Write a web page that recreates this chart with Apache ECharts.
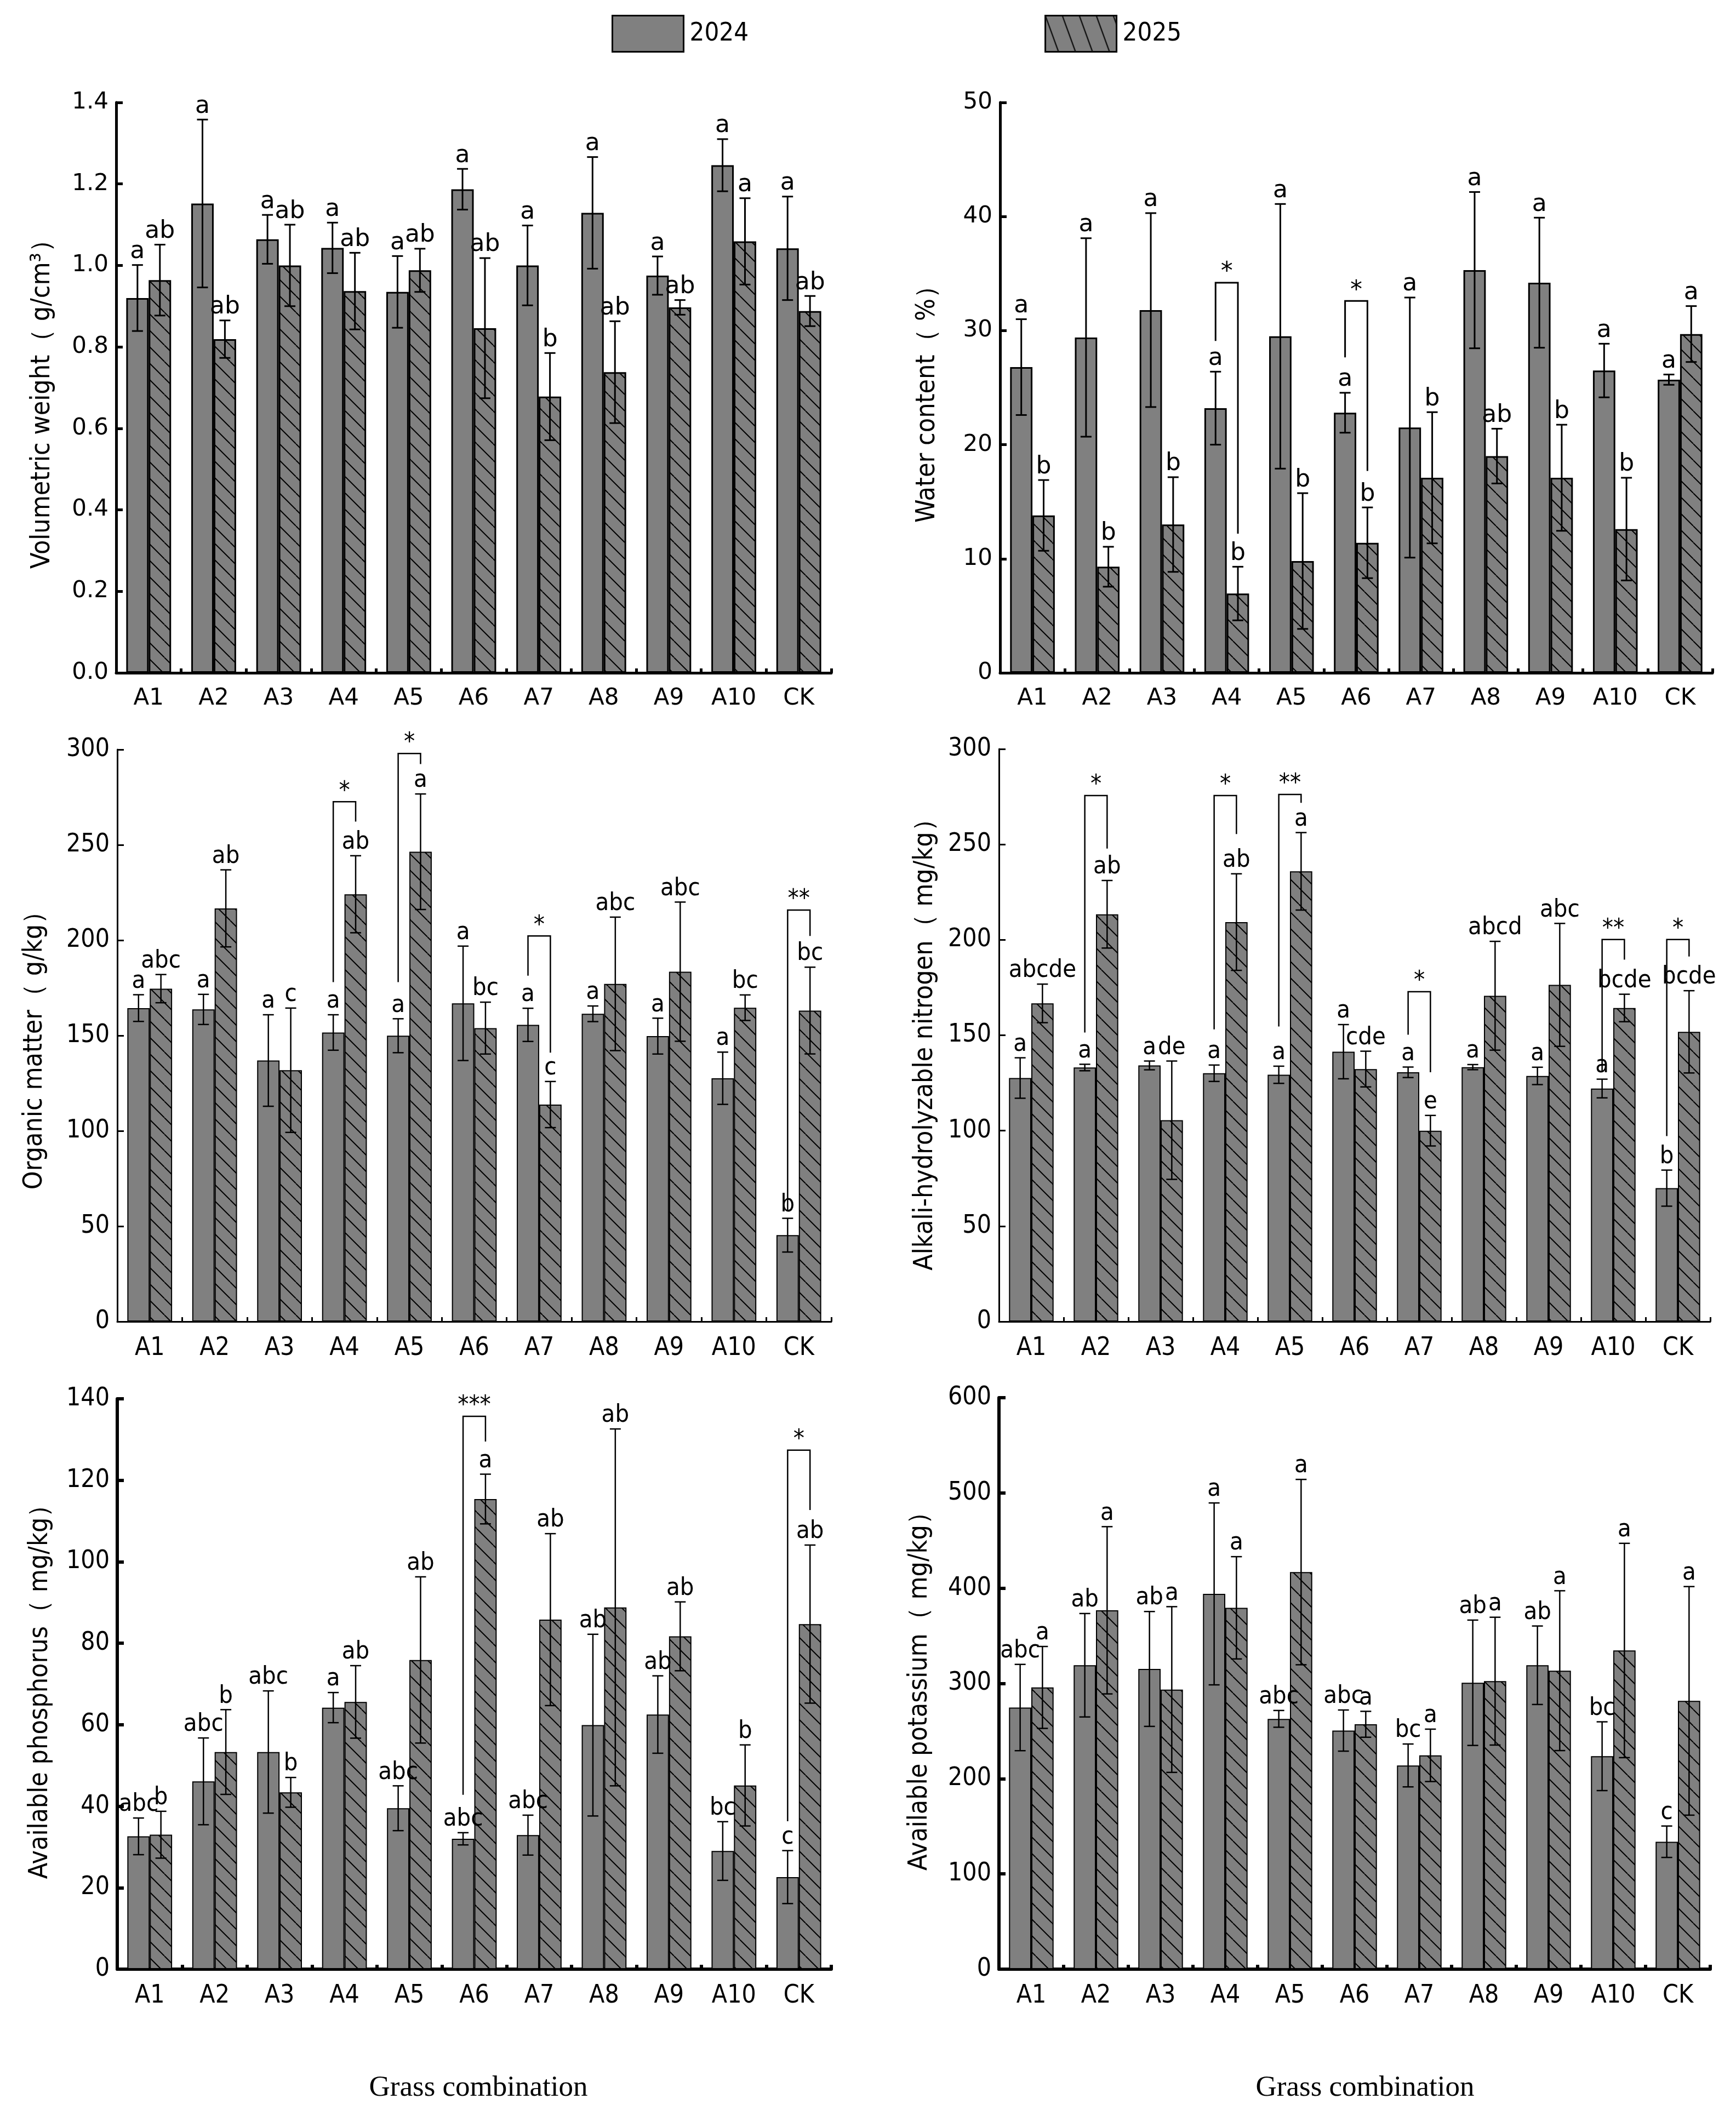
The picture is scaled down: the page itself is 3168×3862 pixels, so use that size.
<!DOCTYPE html>
<html>
<head>
<meta charset="utf-8">
<script src="https://cdn.jsdelivr.net/npm/echarts@6.0.0/dist/echarts.min.js"></script>
<style>
  html, body { margin: 0; padding: 0; background: #fff; }
  #main { width: 3168px; height: 3862px; }
</style>
</head>
<body>
<div id="main"></div>
<script>
var categories = ['A1', 'A2', 'A3', 'A4', 'A5', 'A6', 'A7', 'A8', 'A9', 'A10', 'CK'];

// volumetric weight
var vw2024 = [0.92, 1.152, 1.064, 1.043, 0.935, 1.187, 1.0, 1.129, 0.975, 1.246, 1.042];
var vw2024Err = [0.081, 0.206, 0.06, 0.062, 0.088, 0.05, 0.098, 0.137, 0.047, 0.064, 0.127];
var vw2025 = [0.964, 0.819, 1.0, 0.937, 0.988, 0.846, 0.678, 0.738, 0.897, 1.059, 0.888];
var vw2025Err = [0.087, 0.046, 0.1, 0.094, 0.053, 0.172, 0.107, 0.125, 0.018, 0.106, 0.037];
var vw2024Sig = ['a', 'a', 'a', 'a', 'a', 'a', 'a', 'a', 'a', 'a', 'a'];
var vw2025Sig = ['ab', 'ab', 'ab', 'ab', 'ab', 'ab', 'b', 'ab', 'ab', 'a', 'ab'];
var vwBrackets = [];
var vwStars = [];

// water content
var wc2024 = [26.8, 29.4, 31.8, 23.2, 29.5, 22.8, 21.5, 35.3, 34.2, 26.5, 25.7];
var wc2024Err = [4.2, 8.7, 8.5, 3.2, 11.6, 1.75, 11.4, 6.85, 5.7, 2.35, 0.45];
var wc2025 = [13.8, 9.3, 13.0, 6.95, 9.8, 11.4, 17.1, 19.0, 17.1, 12.6, 29.7];
var wc2025Err = [3.1, 1.75, 4.15, 2.35, 5.95, 3.1, 5.75, 2.4, 4.65, 4.5, 2.45];
var wc2024Sig = ['a', 'a', 'a', 'a', 'a', 'a', 'a', 'a', 'a', 'a', 'a'];
var wc2025Sig = ['b', 'b', 'b', 'b', 'b', 'b', 'b', 'ab', 'b', 'b', 'a'];
var wcBrackets = [[3, 29.1, 34.2, 12.2], [5, 27.65, 32.6, 17.7]];
var wcStars = ['*', '*'];

// organic matter
var om2024 = [164.4, 163.7, 136.9, 151.6, 149.9, 166.9, 155.6, 161.4, 149.7, 127.6, 45.3];
var om2024Err = [7.0, 7.9, 24.0, 9.3, 8.9, 30.0, 8.7, 4.1, 9.4, 13.7, 8.85];
var om2025 = [174.6, 216.7, 131.8, 224.1, 246.4, 153.9, 113.8, 177.1, 183.5, 164.6, 163.1];
var om2025Err = [7.4, 20.2, 32.6, 20.2, 30.3, 13.6, 12.1, 35.0, 36.5, 6.7, 22.75];
var om2024Sig = ['a', 'a', 'a', 'a', 'a', 'a', 'a', 'a', 'a', 'a', 'b'];
var om2025Sig = ['abc', 'ab', 'c', 'ab', 'a', 'bc', 'c', 'abc', 'abc', 'bc', 'bc'];
var omBrackets = [[3, 178, 272.6, 262.2], [4, 178, 297.9, 292.4], [6, 181.4, 202.2, 141], [10, 58, 215.8, 202.2]];
var omStars = ['*', '*', '*', '**'];

// alkali-hydrolyzable nitrogen
var an2024 = [127.6, 133.1, 134.2, 130.1, 129.3, 141.4, 130.6, 133.3, 128.7, 122.1, 69.9];
var an2024Err = [10.6, 1.7, 2.3, 4.3, 4.5, 14.2, 2.75, 1.35, 4.55, 4.9, 9.45];
var an2025 = [166.7, 213.4, 105.5, 209.3, 235.9, 132.3, 100.0, 170.7, 176.4, 164.3, 151.8];
var an2025Err = [10.1, 17.7, 31.0, 25.3, 20.3, 9.35, 8.0, 28.5, 32.2, 7.2, 21.55];
var an2024Sig = ['a', 'a', 'a', 'a', 'a', 'a', 'a', 'a', 'a', 'a', 'b'];
var an2025Sig = ['abcde', 'ab', 'de', 'ab', 'a', 'cde', 'e', 'abcd', 'abc', 'bcde', 'bcde'];
var anBrackets = [[1, 151.4, 275.6, 247.8], [3, 153.1, 275.6, 255.4], [4, 154.6, 276.2, 271.8], [6, 150.3, 172.8, 130.6], [9, 130.6, 200.2, 189.6], [10, 97.2, 200.2, 191.3]];
var anStars = ['*', '*', '**', '*', '**', '*'];

// available phosphorus
var ap2024 = [32.6, 46.1, 53.3, 64.2, 39.5, 32.0, 32.9, 59.9, 62.5, 29.0, 22.6];
var ap2024Err = [4.5, 10.65, 15.0, 3.7, 5.5, 1.5, 4.9, 22.3, 9.5, 7.2, 6.5];
var ap2025 = [33.0, 53.3, 43.4, 65.6, 75.9, 115.4, 85.8, 88.8, 81.7, 45.1, 84.7];
var ap2025Err = [5.75, 10.4, 3.65, 8.9, 20.4, 6.1, 21.1, 43.8, 8.45, 9.95, 19.4];
var ap2024Sig = ['abc', 'abc', 'abc', 'a', 'abc', 'abc', 'abc', 'ab', 'ab', 'bc', 'c'];
var ap2025Sig = ['b', 'b', 'b', 'ab', 'ab', 'a', 'ab', 'ab', 'ab', 'b', 'ab'];
var apBrackets = [[5, 42.8, 135.7, 129.5], [10, 36.3, 127.4, 112.7]];
var apStars = ['***', '*'];

// available potassium
var ak2024 = [274.7, 319.1, 315.2, 394.0, 262.8, 250.5, 213.9, 300.7, 319.1, 223.6, 133.8];
var ak2024Err = [45.3, 54.3, 60.3, 95.5, 8.8, 21.6, 22.5, 65.8, 41.2, 36.1, 16.5];
var ak2025 = [295.8, 376.8, 293.6, 379.4, 416.9, 257.1, 224.5, 302.4, 313.4, 334.6, 281.7];
var ak2025Err = [43.0, 87.8, 87.0, 53.7, 97.3, 13.6, 27.5, 67.1, 83.9, 112.5, 120.0];
var ak2024Sig = ['abc', 'ab', 'ab', 'a', 'abc', 'abc', 'bc', 'ab', 'ab', 'bc', 'c'];
var ak2025Sig = ['a', 'a', 'a', 'a', 'a', 'a', 'a', 'a', 'a', 'a', 'a'];

var GAP = 0.31;  // barCategoryGap
var WIDE = 'DejaVu Sans';
var NARROW = 'DejaVu Sans Condensed';

// hatch tile for 2025 bars
function hatch(w, h, lw) {
  var c = document.createElement('canvas');
  c.width = w; c.height = h;
  var ctx = c.getContext('2d');
  ctx.fillStyle = '#808080';
  ctx.fillRect(0, 0, w, h);
  ctx.strokeStyle = '#000';
  ctx.lineWidth = lw;
  ctx.beginPath();
  for (var k = -1; k <= 1; k++) {
    ctx.moveTo(k * w, 0);
    ctx.lineTo(k * w + w, h);
  }
  ctx.stroke();
  return c;
}
var barHatch = hatch(30, 30, 2);
var legendHatch = hatch(31, 85, 2);

var panels = [
  { left: 212, top: 187, width: 1305, height: 1041, max: 1.4, step: 0.2, dec: 1,
    name: 'Volumetric weight（ g/cm³）', nameGap: 110, shift: 36, font: WIDE, fs: 42, lfs: 44,
    axisW: 5, barW: 3, errW: 3,
    d24: vw2024, e24: vw2024Err, d25: vw2025, e25: vw2025Err, s24: vw2024Sig, s25: vw2025Sig, br: vwBrackets, st: vwStars },
  { left: 1825, top: 187, width: 1300, height: 1041, max: 50, step: 10, dec: 0,
    name: 'Water content（ %）', nameGap: 108, shift: 36, font: WIDE, fs: 42, lfs: 44,
    axisW: 5, barW: 3, errW: 3,
    d24: wc2024, e24: wc2024Err, d25: wc2025, e25: wc2025Err, s24: wc2024Sig, s25: wc2025Sig, br: wcBrackets, st: wcStars },
  { left: 214, top: 1368, width: 1303, height: 1044, max: 300, step: 50, dec: 0,
    name: 'Organic matter（ g/kg）', nameGap: 126, shift: 30, font: NARROW, fs: 46, lfs: 45,
    axisW: 3, barW: 2, errW: 2.5,
    d24: om2024, e24: om2024Err, d25: om2025, e25: om2025Err, s24: om2024Sig, s25: om2025Sig, br: omBrackets, st: omStars },
  { left: 1823, top: 1367, width: 1298, height: 1045, max: 300, step: 50, dec: 0,
    name: 'Alkali-hydrolyzable nitrogen（ mg/kg）', nameGap: 110, shift: 10, font: NARROW, fs: 46, lfs: 45,
    axisW: 3, barW: 2, errW: 2.5,
    d24: an2024, e24: an2024Err, d25: an2025, e25: an2025Err, s24: an2024Sig, s25: an2025Sig, br: anBrackets, st: anStars },
  { left: 214, top: 2553, width: 1303, height: 1041, max: 140, step: 20, dec: 0,
    name: 'Available phosphorus（ mg/kg）', nameGap: 116, shift: 4, font: NARROW, fs: 46, lfs: 45,
    axisW: 6, barW: 2, errW: 2.5,
    d24: ap2024, e24: ap2024Err, d25: ap2025, e25: ap2025Err, s24: ap2024Sig, s25: ap2025Sig, br: apBrackets, st: apStars },
  { left: 1823, top: 2551, width: 1298, height: 1043, max: 600, step: 100, dec: 0,
    name: 'Available potassium（ mg/kg）', nameGap: 120, shift: 4, font: NARROW, fs: 46, lfs: 45,
    axisW: 6, barW: 2, errW: 2.5,
    d24: ak2024, e24: ak2024Err, d25: ak2025, e25: ak2025Err, s24: ak2024Sig, s25: ak2025Sig, br: [], st: [] }
];

// error bar + letter, side = -1 for 2024, +1 for 2025
function errRender(p, side, sig) {
  return function (params, api) {
    var i = api.value(0), m = api.value(1), e = api.value(2);
    var band = api.size([1, 0])[0];
    var bw = band * (1 - GAP) / 2;
    var x = api.coord([i, m])[0] + side * bw / 2;
    var yt = api.coord([i, m + e])[1];
    var yb = api.coord([i, m - e])[1];
    var cap = 10;
    var ls = { stroke: '#000', lineWidth: p.errW };
    return {
      type: 'group',
      children: [
        { type: 'line', shape: { x1: x, y1: yt, x2: x, y2: yb }, style: ls },
        { type: 'line', shape: { x1: x - cap, y1: yt, x2: x + cap, y2: yt }, style: ls },
        { type: 'line', shape: { x1: x - cap, y1: yb, x2: x + cap, y2: yb }, style: ls },
        { type: 'text', style: { text: sig[params.dataIndex], x: x, y: yt - 2, align: 'center', verticalAlign: 'bottom',
          fontSize: p.lfs, fontFamily: p.font, fill: '#000' } }
      ]
    };
  };
}

function bracketRender(p) {
  return function (params, api) {
    var i = api.value(0);
    var band = api.size([1, 0])[0];
    var bw = band * (1 - GAP) / 2;
    var cx = api.coord([i, 0])[0];
    var xl = cx - bw / 2, xr = cx + bw / 2;
    var yl = api.coord([i, api.value(1)])[1];
    var yt = api.coord([i, api.value(2)])[1];
    var yr = api.coord([i, api.value(3)])[1];
    return {
      type: 'group',
      children: [
        { type: 'polyline', shape: { points: [[xl, yl], [xl, yt], [xr, yt], [xr, yr]] },
          style: { stroke: '#000', lineWidth: p.errW, fill: null } },
        { type: 'text', style: { text: p.st[params.dataIndex], x: cx, y: yt + 4, align: 'center', verticalAlign: 'bottom',
          fontSize: p.lfs, fontFamily: p.font, fill: '#000' } }
      ]
    };
  };
}

var grids = [], xAxes = [], yAxes = [], series = [];
panels.forEach(function (p, k) {
  grids.push({ left: p.left, top: p.top, width: p.width, height: p.height });
  xAxes.push({
    type: 'category', gridIndex: k, data: categories,
    axisLine: { lineStyle: { color: '#000', width: p.axisW } },
    axisTick: { show: true, inside: true, length: 8, lineStyle: { color: '#000', width: p.axisW } },
    axisLabel: { color: '#000', fontSize: p.fs, fontFamily: p.font, margin: 26, interval: 0 }
  });
  yAxes.push({
    type: 'value', gridIndex: k, min: 0, max: p.max, interval: p.step,
    name: p.name, nameLocation: 'middle', nameGap: p.nameGap,
    nameTextStyle: { color: '#000', fontSize: 48, fontFamily: NARROW, padding: [0, p.shift, 0, 0] },
    axisLine: { show: true, lineStyle: { color: '#000', width: p.axisW } },
    axisTick: { show: true, inside: true, length: 12, lineStyle: { color: '#000', width: p.axisW } },
    axisLabel: { color: '#000', fontSize: p.fs, fontFamily: p.font, margin: 14,
      formatter: function (v) { return v.toFixed(p.dec); } },
    splitLine: { show: false }
  });
  series.push({
    type: 'bar', name: '2024', xAxisIndex: k, yAxisIndex: k, data: p.d24,
    barGap: '0%', barCategoryGap: (GAP * 100) + '%',
    itemStyle: { color: '#808080', borderColor: '#000', borderWidth: p.barW }
  });
  series.push({
    type: 'bar', name: '2025', xAxisIndex: k, yAxisIndex: k, data: p.d25,
    barGap: '0%', barCategoryGap: (GAP * 100) + '%',
    itemStyle: { color: { image: barHatch, repeat: 'repeat' }, borderColor: '#000', borderWidth: p.barW }
  });
  series.push({
    type: 'custom', xAxisIndex: k, yAxisIndex: k, clip: false, z: 5,
    data: p.d24.map(function (v, i) { return [i, v, p.e24[i]]; }),
    renderItem: errRender(p, -1, p.s24)
  });
  series.push({
    type: 'custom', xAxisIndex: k, yAxisIndex: k, clip: false, z: 5,
    data: p.d25.map(function (v, i) { return [i, v, p.e25[i]]; }),
    renderItem: errRender(p, 1, p.s25)
  });
  if (p.br.length) {
    series.push({
      type: 'custom', xAxisIndex: k, yAxisIndex: k, clip: false, z: 6,
      data: p.br, renderItem: bracketRender(p)
    });
  }
});

var chart = echarts.init(document.getElementById('main'), null, { renderer: 'canvas' });
chart.setOption({
  backgroundColor: '#fff',
  animation: false,
  legend: {
    left: 1111, top: 22, itemWidth: 130, itemHeight: 66, itemGap: 540, selectedMode: false,
    textStyle: { color: '#000', fontSize: 47, fontFamily: NARROW, padding: [0, 0, 0, 6] },
    data: [
      { name: '2024', icon: 'rect', itemStyle: { color: '#808080', borderColor: '#000', borderWidth: 3 } },
      { name: '2025', icon: 'rect', itemStyle: { color: { image: legendHatch, repeat: 'repeat' }, borderColor: '#000', borderWidth: 3 } }
    ]
  },
  title: [
    { text: 'Grass combination', left: 868, top: 3780, textAlign: 'center',
      textStyle: { color: '#000', fontSize: 53, fontWeight: 'normal', fontFamily: 'Liberation Serif' } },
    { text: 'Grass combination', left: 2486, top: 3780, textAlign: 'center',
      textStyle: { color: '#000', fontSize: 53, fontWeight: 'normal', fontFamily: 'Liberation Serif' } }
  ],
  grid: grids,
  xAxis: xAxes,
  yAxis: yAxes,
  series: series
});
</script>
</body>
</html>
